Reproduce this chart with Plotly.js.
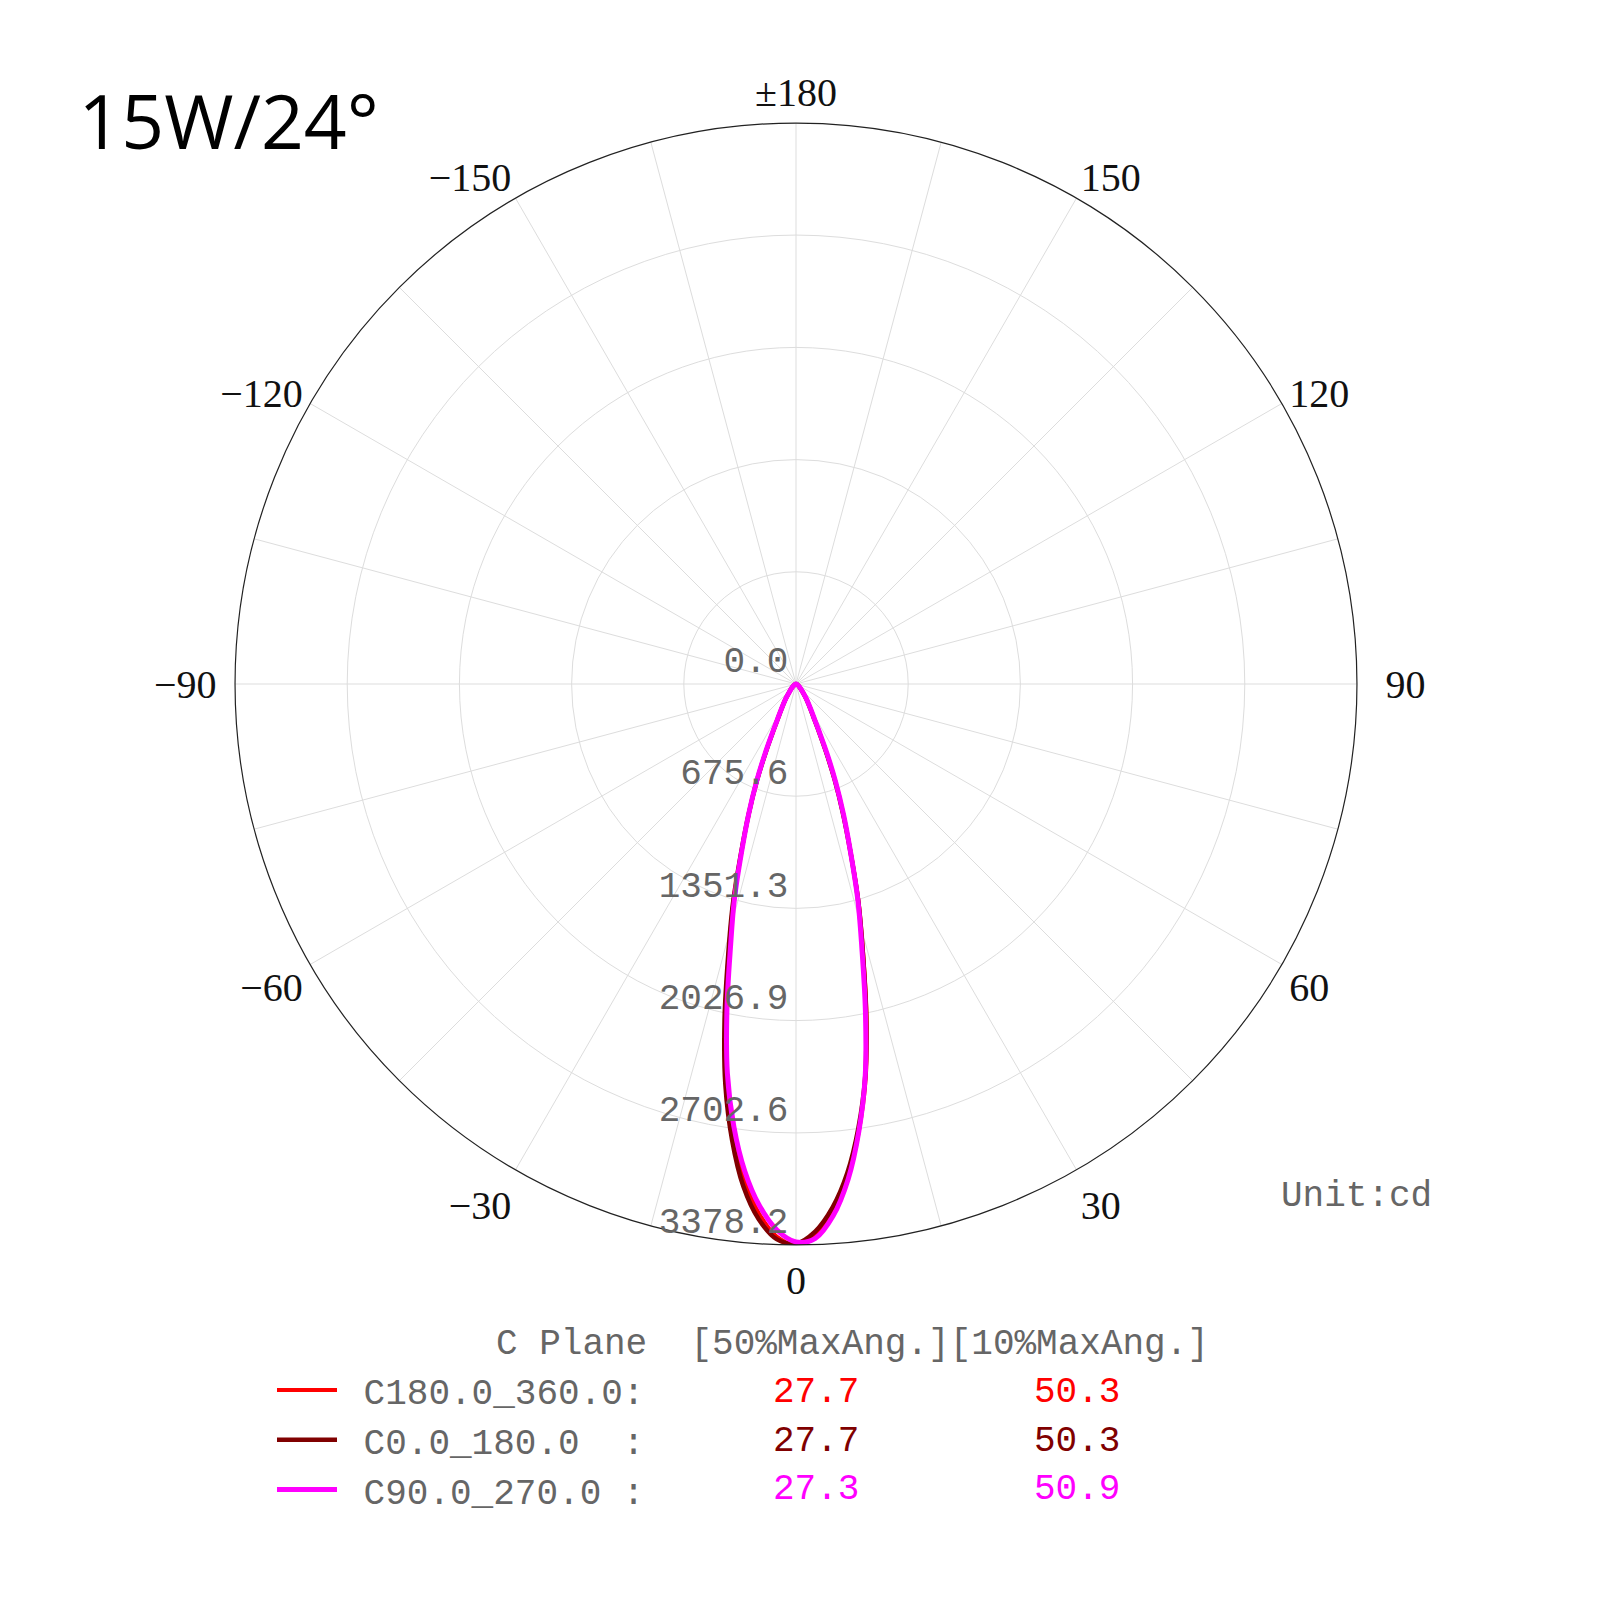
<!DOCTYPE html>
<html>
<head>
<meta charset="utf-8">
<script src="https://cdn.plot.ly/plotly-3.0.1.min.js"></script>
<style>html,body{margin:0;padding:0;background:#fff;}#chart{width:1600px;height:1600px;}</style>
</head>
<body>
<div id="chart"></div>
<script>
// Gamma angles (degrees from nadir) for each half-plane
const gamma = [0, 2, 4, 6, 8, 10, 12, 14, 16, 18, 20, 22, 24, 26, 28, 30, 35, 40, 50, 60, 70, 80, 90, 180];

// Intensities (cd) — positive side / negative side of each C plane pair
const c180_360_pos = [3378, 3328, 3192, 2990, 2720, 2415, 2044, 1672, 1368, 1064, 828, 625, 439, 304, 223, 176, 105, 61, 27, 12, 6, 3, 0, 0];
const c180_360_neg = [3378, 3330, 3196, 2995, 2725, 2420, 2048, 1675, 1370, 1066, 830, 627, 441, 305, 224, 177, 106, 62, 27, 12, 6, 3, 0, 0];
const c0_180_pos   = [3370, 3300, 3160, 2960, 2700, 2400, 2030, 1662, 1360, 1058, 823, 620, 436, 302, 221, 175, 104, 60, 26, 11, 5, 2, 0, 0];
const c0_180_neg   = [3370, 3345, 3230, 3040, 2770, 2450, 2070, 1690, 1380, 1072, 834, 630, 443, 307, 226, 178, 107, 63, 28, 12, 6, 3, 0, 0];
const c90_270_pos  = [3360, 3340, 3210, 3000, 2720, 2400, 2010, 1640, 1350, 1062, 838, 640, 460, 318, 232, 182, 108, 63, 28, 12, 6, 3, 0, 0];
const c90_270_neg  = [3360, 3290, 3150, 2950, 2690, 2380, 2000, 1630, 1345, 1057, 833, 636, 456, 315, 230, 180, 107, 62, 27, 12, 6, 3, 0, 0];

const seriesNames = ["\u00a0C180.0_360.0:", "\u00a0C0.0_180.0\u00a0\u00a0:", "\u00a0C90.0_270.0\u00a0:"];
const seriesColors = ["#ff0000", "#800000", "#ff00ff"];
const seriesWidths = [4, 4.5, 5];
const beam50 = ["27.7", "27.7", "27.3"];
const beam10 = ["50.3", "50.3", "50.9"];

// Radial ticks
const radialTicks = [0, 675.6, 1351.3, 2026.9, 2702.6, 3378.2];
const radialTickText = ["0.0", "675.6", "1351.3", "2026.9", "2702.6", "3378.2"];
const rMax = 3378.2;

// Angular ticks
const angTickVals = [0, 15, 30, 45, 60, 75, 90, 105, 120, 135, 150, 165, 180, 195, 210, 225, 240, 255, 270, 285, 300, 315, 330, 345];
const angTickText = ["0", "", "30", "", "60", "", "\u00a0\u00a090", "", "120", "", "150", "", "\u00b1180", "", "\u2212150", "", "\u2212120", "", "\u221290\u00a0", "", "\u221260", "", "\u221230", ""];

function fullCurve(pos, neg) {
  const theta = [], r = [];
  for (let i = gamma.length - 1; i >= 0; i--) { theta.push(-gamma[i]); r.push(neg[i]); }
  for (let i = 1; i < gamma.length; i++) { theta.push(gamma[i]); r.push(pos[i]); }
  return {theta, r};
}

const pairs = [[c180_360_pos, c180_360_neg], [c0_180_pos, c0_180_neg], [c90_270_pos, c90_270_neg]];
const traces = pairs.map((p, k) => {
  const c = fullCurve(p[0], p[1]);
  return {
    type: "scatterpolar", mode: "lines",
    theta: c.theta, r: c.r,
    name: seriesNames[k],
    line: {color: seriesColors[k], width: seriesWidths[k], shape: "spline", smoothing: 1},
    hoverinfo: "skip"
  };
});

const serif = "Liberation Serif, DejaVu Serif, serif";
const mono = "Liberation Mono, DejaVu Sans Mono, monospace";
const rowsY = [0.1300, 0.0993, 0.0693];
const annotations = [
  {text: "Unit:cd", x: 0.848, y: 0.2525, xref: "paper", yref: "paper", showarrow: false,
   xanchor: "center", yanchor: "middle", font: {family: mono, size: 36, color: "#666"}},
  {text: "C Plane\u00a0\u00a0[50%MaxAng.][10%MaxAng.]", x: 0.309, y: 0.1597, xref: "paper", yref: "paper", showarrow: false,
   xanchor: "left", yanchor: "middle", font: {family: mono, size: 36, color: "#666"}}
];
for (let k = 0; k < 3; k++) {
  annotations.push({text: beam50[k], x: 0.51, y: rowsY[k], xref: "paper", yref: "paper", showarrow: false,
    xanchor: "center", yanchor: "middle", font: {family: mono, size: 36, color: seriesColors[k]}});
  annotations.push({text: beam10[k], x: 0.673, y: rowsY[k], xref: "paper", yref: "paper", showarrow: false,
    xanchor: "center", yanchor: "middle", font: {family: mono, size: 36, color: seriesColors[k]}});
}

const layout = {
  width: 1600, height: 1600,
  margin: {l: 0, r: 0, t: 0, b: 0},
  paper_bgcolor: "#fff",
  title: {text: "15W/24\u00b0", x: 0.049, xanchor: "left", xref: "paper", y: 0.94, yref: "paper", yanchor: "top",
          font: {family: "Open Sans, Noto Sans, sans-serif", size: 75, color: "#000"}},
  showlegend: true,
  legend: {x: 0.170, y: 0.150, xanchor: "left", yanchor: "top", bgcolor: "rgba(0,0,0,0)",
           font: {family: mono, size: 36, color: "#666"}, itemwidth: 60, tracegroupgap: 0},
  polar: {
    domain: {x: [0.1469, 0.8481], y: [0.2219, 0.9231]},
    bgcolor: "#fff",
    angularaxis: {
      rotation: -90, direction: "counterclockwise",
      tickmode: "array", tickvals: angTickVals, ticktext: angTickText,
      ticks: "", 
      showline: true, linecolor: "#222", linewidth: 1.2,
      showgrid: true, gridcolor: "#dddddd", gridwidth: 1,
      tickfont: {family: serif, size: 40, color: "#111"}
    },
    radialaxis: {
      range: [0, rMax], angle: -90, side: "clockwise",
      tickmode: "array", tickvals: radialTicks, ticktext: radialTickText.map(t => t + "<br>\u00a0"),
      showline: false, ticks: "", showgrid: true, gridcolor: "#dddddd", gridwidth: 1,
      tickfont: {family: mono, size: 36, color: "#666"}, tickangle: -90
    }
  },
  annotations: annotations
};

Plotly.newPlot("chart", traces, layout, {displayModeBar: false, staticPlot: true});
</script>
</body>
</html>
